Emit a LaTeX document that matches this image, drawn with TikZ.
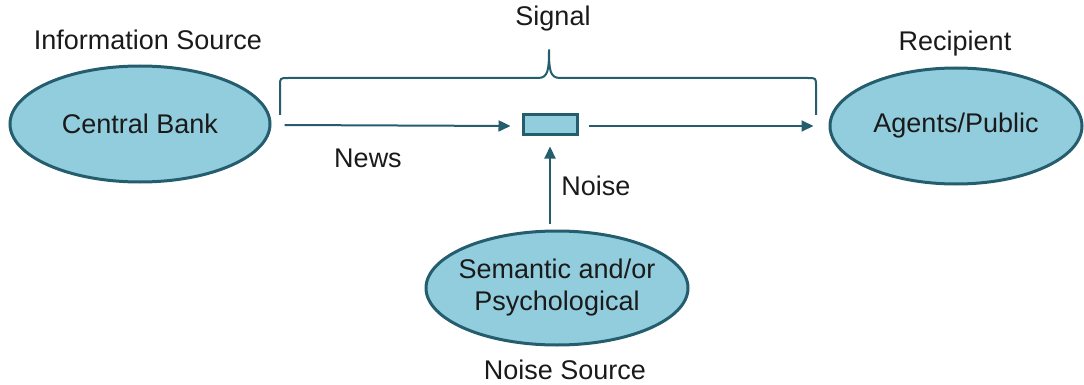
\documentclass[tikz,border=0pt]{standalone}
\usepackage{fontspec}
\setmainfont{Liberation Sans}
\usetikzlibrary{shapes.geometric,arrows.meta}
\definecolor{teal}{HTML}{245E6E}
\definecolor{aqua}{HTML}{92CDDD}
\definecolor{ink}{HTML}{1A1A1A}
\begin{document}
\begin{tikzpicture}[x=1pt,y=-1pt,
  blob/.style={ellipse,draw=teal,fill=aqua,line width=3pt,inner sep=-10pt,
    font=\fontsize{27}{32}\selectfont,text=ink,align=center},
  lbl/.style={font=\fontsize{27}{32}\selectfont,text=ink,inner sep=0pt},
  link/.style={draw=teal,line width=2pt,-{Triangle[length=12pt,width=11pt]}}]
\useasboundingbox (0,0) rectangle (1084,385);
% ovals
\node[blob,minimum width=260pt,minimum height=116pt] (cb) at (140,124) {Central Bank};
\node[blob,minimum width=252pt,minimum height=116pt] (ag) at (956,126) {Agents/Public};
\node[blob,minimum width=262pt,minimum height=114pt] (ns) at (557,288) {Semantic and/or\\Psychological};
% channel box
\node[draw=teal,fill=aqua,line width=3pt,minimum width=54pt,minimum height=20pt,inner sep=0pt] (ch) at (550,125) {};
% labels
\node[lbl] (tInfo) at (148,40) {Information Source};
\node[lbl] (tSig) at (553,19) {Signal};
\node[lbl] (tRec) at (955,44) {Recipient};
\node[lbl] (tNews) at (368,158) {News};
\node[lbl] (tNoise) at (596,186) {Noise};
\node[lbl] (tNS) at (565,370) {Noise Source};
% connectors
\draw[link] ([xshift=13pt,yshift=-1pt]cb.east) -- ([xshift=-11pt,yshift=-1pt]ch.west);
\draw[link] ([xshift=10pt,yshift=-1pt]ch.east) -- ([xshift=-15pt]ag.west);
\draw[link] ([yshift=6pt]ns.north -| ch.south) -- ([yshift=-10pt]ch.south);
% brace over the channel
\draw[teal,line width=2pt,line join=round]
  (280,115) -- (280,86) .. controls (280,78) .. (288,78)
  -- (538,78) .. controls (548,78) and (549,70) .. (549,50)
  .. controls (549,70) and (550,78) .. (560,78)
  -- (808,78) .. controls (816,78) .. (816,86) -- (816,115);
\end{tikzpicture}
\end{document}
